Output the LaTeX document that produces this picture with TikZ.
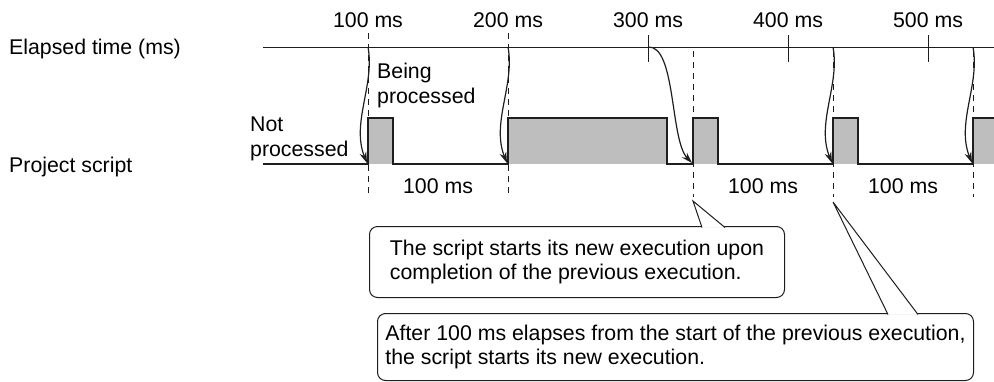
\documentclass[tikz,border=0pt]{standalone}
\usepackage{fontspec}
\setmainfont{Liberation Sans}
\usetikzlibrary{arrows.meta,positioning,calc}
\definecolor{pgray}{RGB}{190,190,190}
\definecolor{pline}{RGB}{30,30,30}

\begin{document}
\begin{tikzpicture}[x=1pt, y=-1pt,
    lbl/.style={font=\fontsize{21.3}{24.5}\selectfont, inner sep=0pt, align=left},
    axis/.style={pline, line width=1pt},
    sig/.style={pline, line width=1.3pt, line join=miter},
    startline/.style={pline, line width=1pt, dash pattern=on 6pt off 5pt},
    trig/.style={-{Stealth[length=11pt,width=7pt]}, pline, line width=1.2pt},
    callout/.style={draw=pline, rounded corners=8pt, fill=white, line width=1pt,
                    font=\fontsize{21.3}{24}\selectfont, inner sep=0pt, align=left},
  ]
    \useasboundingbox (0,0) rectangle (994,381);

    % row captions
    \node[lbl, anchor=base west] (elapsed) at (9,54)  {Elapsed time (ms)};
    \node[lbl, anchor=base west] (script)  at (9,172) {Project script};

    % time axis
    \coordinate (axisL) at (263,47);
    \coordinate (axisR) at (994,47);
    \draw[axis] (axisL) -- (axisR);
    \foreach \x in {648,788,928}
      \draw[axis] (\x,35) -- (\x,62);
    \foreach \t/\x in {100/368,200/508,300/648,400/788,500/928}
      \node[lbl, anchor=base] (tick\t) at (\x,27) {\t\ ms};

    % execution periods
    \foreach \a/\b in {368/393,508/667,693/718,833/858,973/994}
      \fill[pgray] (\a,118) rectangle (\b,164);
    \draw[sig] (263,164) -- (368,164) -- (368,118) -- (393,118) -- (393,164)
      -- (508,164) -- (508,118) -- (667,118) -- (667,164) -- (693,164)
      -- (693,118) -- (718,118) -- (718,164) -- (833,164) -- (833,118)
      -- (858,118) -- (858,164) -- (973,164) -- (973,118) -- (994,118);

    % start markers
    \foreach \x in {368,508}
      \draw[startline] (\x,33) -- (\x,197);
    \foreach \x in {693,833,973}
      \draw[startline] (\x,51) -- (\x,197);

    % triggers
    \foreach \x in {368,508,833,973}
      \draw[trig] (\x,47) .. controls +(7,38) and +(-16,-40) .. (\x-1,163);
    \draw[trig] (648,47) .. controls (676,45) and (670,140) .. (692,163);

    \node[lbl, anchor=north west] (notproc) at (250,117) {Not\\processed};
    \node[lbl, anchor=north west] (beingproc) at (377,63) {Being\\processed};

    \foreach \x/\n in {438/1,763/2,903/3}
      \node[lbl, anchor=base] (gap\n) at (\x,193) {100 ms};

    % callouts
    \coordinate (tip1) at (693,201);
    \coordinate (tip2) at (833,202);
    \node[callout, anchor=north west, minimum width=415pt, minimum height=71pt]
      (note1) at (369,226) {The script starts its new execution upon\\completion of the previous execution.};
    \draw[pline, line width=1pt, fill=white] ([xshift=333pt, yshift=-1.5pt]note1.north west)
      -- (tip1) -- ([xshift=356pt, yshift=-1.5pt]note1.north west);
    \node[callout, anchor=north west, minimum width=596pt, minimum height=67pt]
      (note2) at (377,313) {After 100 ms elapses from the start of the previous execution,\\the script starts its new execution.};
    \draw[pline, line width=1pt, fill=white] ([xshift=511pt, yshift=-1.5pt]note2.north west)
      -- (tip2) -- ([xshift=541pt, yshift=-1.5pt]note2.north west);
  \end{tikzpicture}
\end{document}
